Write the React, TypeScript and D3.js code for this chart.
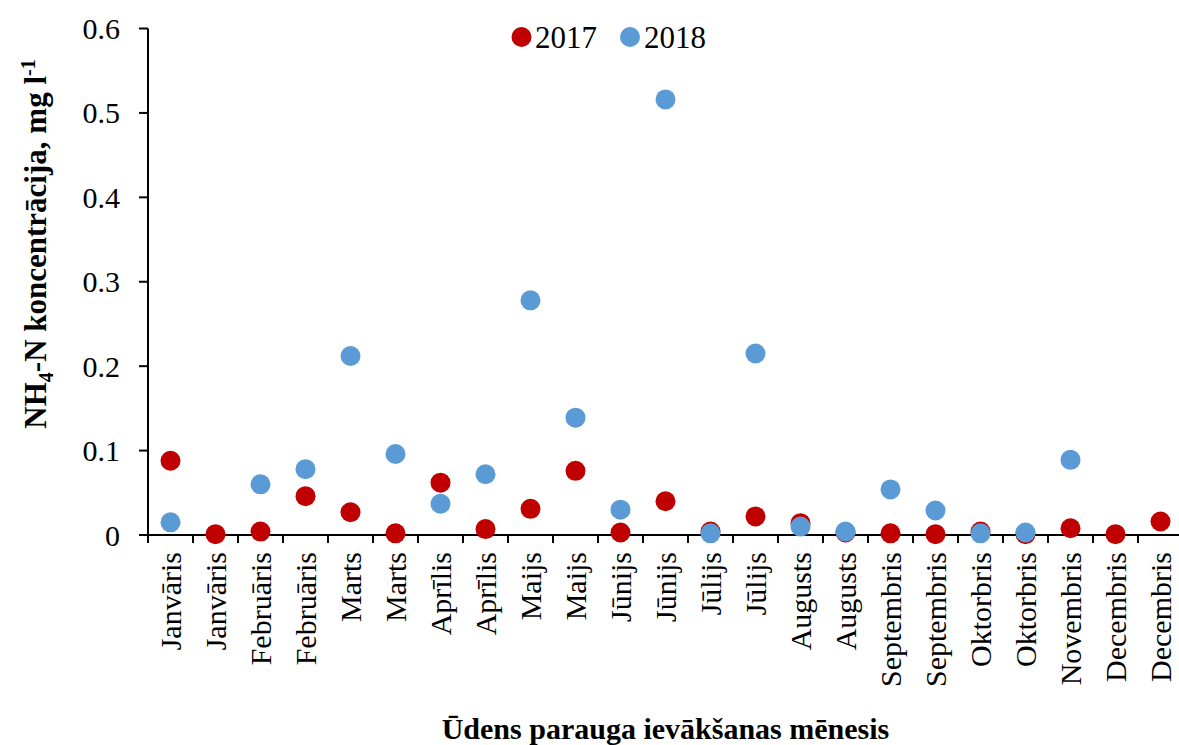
import React from "react";
import * as d3 from "d3";

const categories = [
  "Janvāris", "Janvāris", "Februāris", "Februāris", "Marts", "Marts",
  "Aprīlis", "Aprīlis", "Maijs", "Maijs", "Jūnijs", "Jūnijs",
  "Jūlijs", "Jūlijs", "Augusts", "Augusts", "Septembris", "Septembris",
  "Oktorbris", "Oktorbris", "Novembris", "Decembris", "Decembris",
];

const values2017: (number | null)[] = [
  0.088, 0.001, 0.004, 0.046, 0.027, 0.002,
  0.062, 0.007, 0.031, 0.076, 0.003, 0.040,
  0.004, 0.022, 0.014, 0.003, 0.002, 0.001,
  0.004, 0.001, 0.008, 0.001, 0.016,
];

const values2018: (number | null)[] = [
  0.015, null, 0.060, 0.078, 0.212, 0.096,
  0.037, 0.072, 0.278, 0.139, 0.030, 0.516,
  0.002, 0.215, 0.010, 0.004, 0.054, 0.029,
  0.002, 0.003, 0.089, null, null,
];

const yTicks = [0, 0.1, 0.2, 0.3, 0.4, 0.5, 0.6];

const series = [
  { name: "2017", color: "#C00000", values: values2017 },
  { name: "2018", color: "#5B9BD5", values: values2018 },
];

const W = 1179;
const H = 745;
const FONT = "'Liberation Serif', 'Times New Roman', serif";

export default function App() {
  const left = 148;
  const bandW = 45;
  const right = left + bandW * categories.length;
  const top = 28.5;
  const bottom = 535;

  const x = d3
    .scaleBand<number>()
    .domain(categories.map((_, i) => i))
    .range([left, right])
    .paddingInner(0)
    .paddingOuter(0);
  const y = d3.scaleLinear().domain([0, 0.6]).range([bottom, top]);

  const tickXs = d3.range(categories.length + 1).map((i) => left + i * x.bandwidth());

  return (
    <svg
      width={W}
      height={H}
      style={{ position: "absolute", left: 0, top: 0, background: "#fff" }}
      fontFamily={FONT}
    >
      <rect x={0} y={0} width={W} height={H} fill="#fff" />
      {/* y axis */}
      <line x1={left} x2={left} y1={y(0.6)} y2={bottom} stroke="#000" strokeWidth={2} />
      {yTicks.map((t) => (
        <g key={t}>
          <line x1={left - 9} x2={left} y1={y(t)} y2={y(t)} stroke="#000" strokeWidth={2} />
          <text
            x={120}
            y={y(t)}
            dy="0.35em"
            textAnchor="end"
            fontSize={30}
            fill="#000"
          >
            {t === 0 ? "0" : d3.format(".1f")(t)}
          </text>
        </g>
      ))}
      {/* x axis */}
      <line x1={left} x2={right} y1={bottom} y2={bottom} stroke="#000" strokeWidth={2} />
      {tickXs.map((tx, i) => (
        <line key={i} x1={tx} x2={tx} y1={bottom} y2={bottom + 8} stroke="#000" strokeWidth={2} />
      ))}
      {categories.map((c, i) => {
        const cx = (x(i) as number) + x.bandwidth() / 2;
        return (
          <text
            key={i}
            transform={`translate(${cx},552) rotate(-90)`}
            textAnchor="end"
            dy="0.34em"
            fontSize={30}
            fill="#000"
          >
            {c}
          </text>
        );
      })}
      {/* points */}
      {series.map((s) => (
        <g key={s.name}>
          {s.values.map((v, i) =>
            v === null ? null : (
              <circle
                key={i}
                cx={(x(i) as number) + x.bandwidth() / 2}
                cy={y(v)}
                r={10}
                fill={s.color}
              />
            )
          )}
        </g>
      ))}
      {/* legend */}
      <circle cx={521.5} cy={37} r={10} fill={series[0].color} />
      <text x={535} y={37} dy="0.35em" fontSize={31} fill="#000">
        {series[0].name}
      </text>
      <circle cx={630} cy={37} r={10} fill={series[1].color} />
      <text x={644} y={37} dy="0.35em" fontSize={31} fill="#000">
        {series[1].name}
      </text>
      {/* axis titles */}
      <text
        x={(left + right) / 2}
        y={739}
        textAnchor="middle"
        fontSize={30}
        fontWeight="bold"
        fill="#000"
      >
        Ūdens parauga ievākšanas mēnesis
      </text>
      <text
        transform="translate(46,244) rotate(-90)"
        textAnchor="middle"
        fontSize={31}
        fontWeight="bold"
        fill="#000"
      >
        NH
        <tspan fontSize={20} dy={7}>4</tspan>
        <tspan dy={-7}>-N koncentrācija, mg l</tspan>
        <tspan fontSize={20} dy={-11}>-1</tspan>
      </text>
    </svg>
  );
}
